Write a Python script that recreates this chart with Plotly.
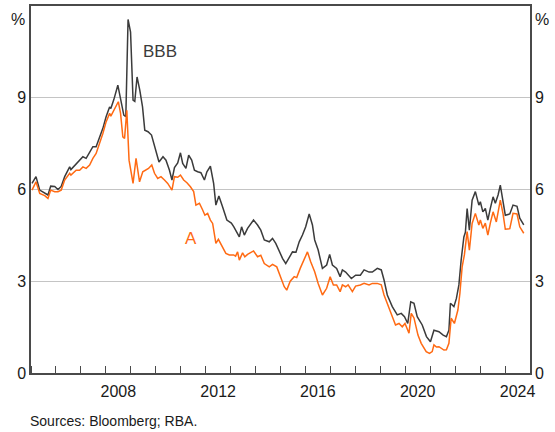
import plotly.graph_objects as go

# Decimal-year dates and yields (%)
bbb_x = [2005.04, 2005.2, 2005.35, 2005.55, 2005.68, 2005.79, 2005.95, 2006.08, 2006.21, 2006.35,
         2006.55, 2006.6, 2006.81, 2006.95, 2007.08, 2007.21, 2007.35, 2007.48, 2007.61, 2007.75,
         2007.88, 2008.01, 2008.15, 2008.2, 2008.32, 2008.48, 2008.59, 2008.72, 2008.8, 2008.89,
         2008.99, 2009.09, 2009.16, 2009.25, 2009.36, 2009.47, 2009.56, 2009.69, 2009.83, 2009.96,
         2010.13, 2010.29, 2010.41, 2010.55, 2010.65, 2010.75, 2010.88, 2010.99, 2011.08, 2011.21,
         2011.32, 2011.44, 2011.55, 2011.68, 2011.81, 2011.95, 2012.05, 2012.19, 2012.32, 2012.41,
         2012.53, 2012.68, 2012.85, 2013.03, 2013.13, 2013.35, 2013.44, 2013.55, 2013.68, 2013.92,
         2014.08, 2014.21, 2014.35, 2014.55, 2014.68, 2014.81, 2014.95, 2015.08, 2015.21, 2015.35,
         2015.48, 2015.62, 2015.75, 2015.88, 2016.01, 2016.15, 2016.28, 2016.37, 2016.51, 2016.68,
         2016.85, 2016.97, 2017.08, 2017.25, 2017.39, 2017.48, 2017.61, 2017.84, 2018.01, 2018.2,
         2018.35, 2018.55, 2018.68, 2018.88, 2019.04, 2019.15, 2019.28, 2019.48, 2019.68, 2019.84,
         2019.97, 2020.1, 2020.22, 2020.35, 2020.48, 2020.68, 2020.85, 2021.01, 2021.15, 2021.35,
         2021.52, 2021.65, 2021.75, 2021.81, 2021.95, 2022.05, 2022.15, 2022.24, 2022.35, 2022.41,
         2022.48, 2022.57, 2022.68, 2022.81, 2022.95, 2023.01, 2023.11, 2023.21, 2023.31, 2023.41,
         2023.52, 2023.61, 2023.72, 2023.81, 2023.92, 2024.01, 2024.19, 2024.32, 2024.48, 2024.59,
         2024.75]
bbb_y = [6.2, 6.42, 5.98, 5.87, 5.82, 6.11, 6.1, 6.0, 6.1, 6.42,
         6.74, 6.65, 6.85, 6.96, 7.07, 7.02, 7.2, 7.4, 7.4, 7.72,
         8.0, 8.38, 8.7, 8.65, 8.94, 9.41, 8.92, 8.43, 8.38, 11.56,
         11.15, 8.92, 8.88, 9.68, 9.25, 8.7, 7.94, 7.89, 7.78, 7.4,
         6.9, 7.07, 6.96, 6.63, 6.31, 6.72, 6.87, 7.2, 6.85, 6.69,
         7.12, 6.96, 6.63, 6.58, 6.55, 6.31, 6.58, 6.76, 6.2, 5.49,
         5.79, 5.43, 5.0, 4.9, 4.78, 4.45, 4.78, 4.51, 4.73, 5.0,
         4.84, 4.67, 4.35, 4.29, 4.4, 4.24, 3.96, 3.75, 3.58, 3.8,
         3.96, 3.95, 4.29, 4.51, 4.78, 5.2, 4.84, 4.35, 4.02, 3.42,
         3.53, 3.88, 3.53, 3.42, 3.15, 3.37, 3.3, 3.09, 3.2, 3.2,
         3.37, 3.3, 3.3, 3.42, 3.37, 3.04, 2.55, 2.17, 1.9, 1.95,
         1.84, 1.62, 2.33, 2.28, 1.84, 1.57, 1.19, 1.02, 1.4, 1.35,
         1.24, 1.19, 1.4, 2.28, 2.17, 2.44, 2.88, 3.69, 4.45, 4.6,
         5.38, 4.67, 5.65, 5.93, 5.49, 5.6, 5.27, 5.38, 5.0, 5.38,
         5.76, 5.55, 5.82, 6.14, 5.6, 5.16, 5.2, 5.49, 5.45, 5.06,
         4.84]

a_x = [2005.04, 2005.2, 2005.35, 2005.55, 2005.68, 2005.79, 2005.95, 2006.08, 2006.21, 2006.35,
       2006.55, 2006.6, 2006.81, 2006.95, 2007.08, 2007.21, 2007.35, 2007.48, 2007.61, 2007.75,
       2007.88, 2008.01, 2008.15, 2008.2, 2008.32, 2008.5, 2008.59, 2008.68, 2008.75, 2008.84,
       2008.93, 2009.09, 2009.21, 2009.27, 2009.35, 2009.48, 2009.61, 2009.71, 2009.84, 2009.95,
       2010.08, 2010.21, 2010.35, 2010.48, 2010.65, 2010.75, 2010.88, 2010.99, 2011.12, 2011.25,
       2011.39, 2011.52, 2011.61, 2011.75, 2011.88, 2011.97, 2012.08, 2012.19, 2012.28, 2012.35,
       2012.41, 2012.51, 2012.68, 2012.81, 2012.95, 2013.12, 2013.2, 2013.28, 2013.35, 2013.48,
       2013.57, 2013.68, 2013.92, 2014.08, 2014.21, 2014.35, 2014.55, 2014.68, 2014.85, 2015.01,
       2015.15, 2015.25, 2015.39, 2015.55, 2015.65, 2015.79, 2015.95, 2016.08, 2016.21, 2016.37,
       2016.51, 2016.68, 2016.85, 2016.95, 2016.99, 2017.12, 2017.25, 2017.39, 2017.48, 2017.61,
       2017.71, 2017.88, 2018.01, 2018.2, 2018.35, 2018.55, 2018.68, 2018.88, 2019.04, 2019.15,
       2019.28, 2019.48, 2019.61, 2019.75, 2019.88, 2019.99, 2020.15, 2020.24, 2020.35, 2020.51,
       2020.64, 2020.84, 2020.97, 2021.08, 2021.15, 2021.25, 2021.35, 2021.55, 2021.65, 2021.75,
       2021.84, 2021.97, 2022.11, 2022.19, 2022.28, 2022.37, 2022.48, 2022.57, 2022.68, 2022.81,
       2022.95, 2023.01, 2023.11, 2023.21, 2023.31, 2023.41, 2023.52, 2023.65, 2023.81, 2023.92,
       2024.01, 2024.19, 2024.32, 2024.48, 2024.59, 2024.75]
a_y = [5.98, 6.25, 5.87, 5.8, 5.71, 5.98, 5.93, 5.93, 5.98, 6.31,
       6.53, 6.47, 6.63, 6.63, 6.74, 6.69, 6.8, 7.02, 7.18, 7.5,
       7.83, 8.21, 8.49, 8.4, 8.59, 8.87, 8.49, 7.72, 7.67, 8.59,
       6.96, 6.2, 7.02, 6.7, 6.25, 6.58, 6.63, 6.69, 6.8, 6.53,
       6.36, 6.42, 6.31, 6.2, 5.98, 6.42, 6.4, 6.47, 6.31, 6.22,
       6.09, 5.93, 5.49, 5.55, 5.33, 5.16, 5.22, 5.0, 4.89, 4.6,
       4.24, 4.37, 4.13, 3.91, 3.86, 3.86, 3.82, 3.96, 3.69, 3.93,
       3.8, 3.88, 3.99, 3.8, 3.85, 3.58, 3.47, 3.55, 3.47, 3.09,
       2.82, 2.71, 3.0, 3.15, 3.12, 3.42, 3.69, 3.96, 3.64, 3.31,
       2.93, 2.55, 2.77, 3.04, 3.15, 2.88, 2.88, 2.66, 2.88, 2.82,
       2.88, 2.66, 2.84, 2.88, 2.93, 2.88, 2.93, 2.93, 2.88, 2.55,
       2.28, 1.84, 1.57, 1.62, 1.51, 1.62, 1.3, 1.95, 1.8, 1.24,
       0.97, 0.7, 0.64, 0.7, 0.92, 0.85, 0.86, 0.75, 0.76, 0.97,
       1.79, 1.62, 2.06, 2.6, 3.47, 3.86, 4.62, 4.02, 4.89, 5.22,
       4.84, 5.0, 4.73, 4.9, 4.51, 4.9, 5.27, 4.94, 5.65, 5.2,
       4.7, 4.72, 5.22, 5.2, 4.78, 4.57]

y_ticks = [0, 3, 6, 9]
x_label_years = [2008, 2012, 2016, 2020, 2024]

FONT = "Liberation Sans, Arial, sans-serif"
DARK = "#3b3b3b"
ORANGE = "#ff6a13"
FRAME = "#4a4a4a"

fig = go.Figure()
fig.add_trace(go.Scatter(x=bbb_x, y=bbb_y, mode="lines", name="BBB",
                         line=dict(color=DARK, width=1.5)))
fig.add_trace(go.Scatter(x=a_x, y=a_y, mode="lines", name="A", yaxis="y2",
                         line=dict(color=ORANGE, width=1.5)))

fig.update_layout(
    width=555, height=432,
    margin=dict(l=31, r=25, t=6, b=59),
    paper_bgcolor="white", plot_bgcolor="white",
    showlegend=False,
    font=dict(family=FONT, size=16, color="#1a1a1a"),
    xaxis=dict(
        range=[2005, 2025], showgrid=False, zeroline=False, automargin=False,
        tickvals=[y + 0.5 for y in x_label_years],
        ticktext=[str(y) for y in x_label_years],
        ticks="", showline=True, linecolor=FRAME, linewidth=1.5, mirror=True,
        ticklabelstandoff=3,
        minor=dict(tick0=2005, dtick=1, ticks="inside", ticklen=7,
                   tickcolor=FRAME, tickwidth=1.2, showgrid=False),
        tickfont=dict(size=16),
    ),
    yaxis=dict(
        range=[0, 12], tickvals=y_ticks, showgrid=True, gridcolor="#c4c4c4",
        gridwidth=1, zeroline=False, showline=True, linecolor=FRAME, automargin=False,
        linewidth=1.5, ticks="", tickfont=dict(size=16),
    ),
    yaxis2=dict(
        range=[0, 12], tickvals=y_ticks, overlaying="y", side="right",
        showgrid=False, zeroline=False, showline=True, linecolor=FRAME, automargin=False,
        linewidth=1.5, ticks="", tickfont=dict(size=16),
    ),
)

fig.add_annotation(text="%", xref="paper", yref="paper", x=0, y=1, xanchor="right",
                   yanchor="top", xshift=-4, yshift=-3, showarrow=False, font=dict(size=16))
fig.add_annotation(text="%", xref="paper", yref="paper", x=1, y=1, xanchor="left",
                   yanchor="top", xshift=3, yshift=-3, showarrow=False, font=dict(size=16))
fig.add_annotation(text="BBB", x=2010.18, y=10.5, showarrow=False,
                   font=dict(size=17, color=DARK))
fig.add_annotation(text="A", x=2011.4, y=4.4, yref="y", showarrow=False,
                   font=dict(size=17, color=ORANGE))
fig.add_annotation(text="Sources: Bloomberg; RBA.", xref="paper", yref="paper",
                   x=0, y=0, xanchor="left", yanchor="middle", yshift=-48, xshift=-3,
                   showarrow=False, font=dict(size=14, color="#1a1a1a"))

fig.write_html("out.html", config={"displayModeBar": False},
               post_script="document.body.style.margin='0';")
